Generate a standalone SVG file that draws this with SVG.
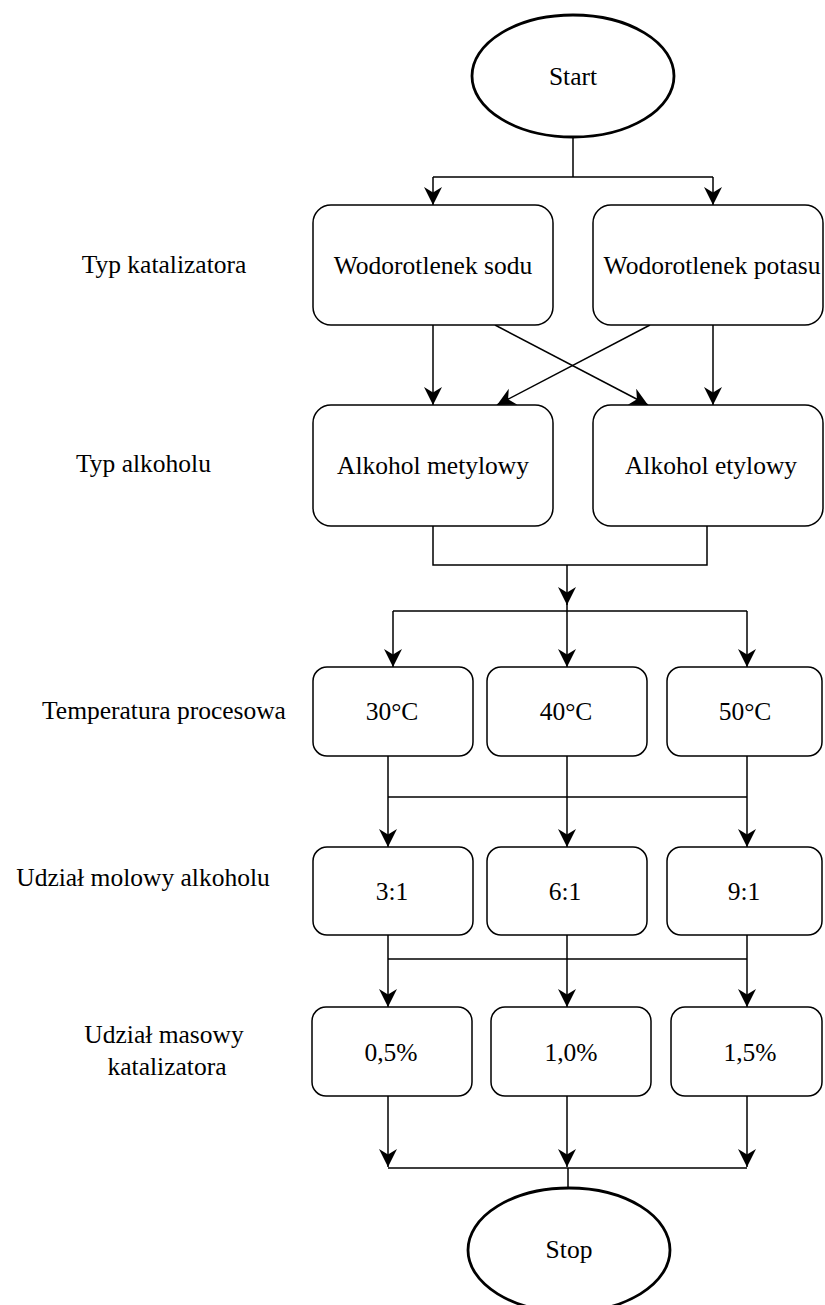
<svg xmlns="http://www.w3.org/2000/svg" width="825" height="1305" viewBox="0 0 825 1305">
<style>
.box{fill:#fff;stroke:#000;stroke-width:1.5}
.term{fill:#fff;stroke:#000;stroke-width:2.8}
.c{fill:none;stroke:#000;stroke-width:1.5}
.a{fill:none;stroke:#000;stroke-width:1.5;marker-end:url(#arr)}
.t{font-family:"Liberation Serif","Times New Roman",serif;font-size:25.5px;text-anchor:middle;fill:#000}
</style>
<defs>
<marker id="arr" markerUnits="userSpaceOnUse" markerWidth="22" markerHeight="20" refX="18" refY="9" orient="auto" viewBox="0 0 22 20">
<path d="M0,0 L18,9 L0,18 L5.5,9 z" fill="#000"/>
</marker>
</defs>
<rect width="825" height="1305" fill="#fff"/>
<g id="labels">
<text class="t" x="164" y="273">Typ katalizatora</text>
<text class="t" x="143.5" y="472">Typ alkoholu</text>
<text class="t" x="164" y="719">Temperatura procesowa</text>
<text class="t" x="143" y="886">Udział molowy alkoholu</text>
<text class="t" x="164" y="1043">Udział masowy</text>
<text class="t" x="167" y="1075">katalizatora</text>
</g>
<g id="connectors">
<path class="c" d="M573,137 V177 M433,177 H713"/>
<path class="a" d="M433,177 V205"/>
<path class="a" d="M713,177 V205"/>
<path class="a" d="M433,325 V405"/>
<path class="a" d="M713,325 V405"/>
<path class="a" d="M495,325 L648,405"/>
<path class="a" d="M650,325 L497,405"/>
<path class="c" d="M433,526 V565 H707 V526"/>
<path class="a" d="M567,565 V605"/>
<path class="c" d="M567,603 V611 M393,611 H747"/>
<path class="a" d="M393,611 V667"/>
<path class="a" d="M567,611 V667"/>
<path class="a" d="M747,611 V667"/>
<path class="c" d="M388,797 H747"/>
<path class="a" d="M388,756 V847"/>
<path class="a" d="M567,756 V847"/>
<path class="a" d="M747,756 V847"/>
<path class="c" d="M388,959 H747"/>
<path class="a" d="M388,935 V1007"/>
<path class="a" d="M567,935 V1007"/>
<path class="a" d="M747,935 V1007"/>
<path class="c" d="M388,1168 H747 M568,1168 V1188"/>
<path class="a" d="M388,1096 V1167"/>
<path class="a" d="M567,1096 V1167"/>
<path class="a" d="M747,1096 V1167"/>
</g>
<g id="start"><ellipse class="term" cx="573" cy="76" rx="101" ry="61"/><text class="t" x="573" y="85">Start</text></g>
<g id="naoh"><rect class="box" x="313" y="205" width="240" height="120" rx="18"/><text class="t" x="433" y="274">Wodorotlenek sodu</text></g>
<g id="koh"><rect class="box" x="593" y="205" width="230" height="120" rx="18"/><text class="t" x="712" y="274">Wodorotlenek potasu</text></g>
<g id="metanol"><rect class="box" x="313" y="405" width="240" height="121" rx="18"/><text class="t" x="433" y="474">Alkohol metylowy</text></g>
<g id="etanol"><rect class="box" x="593" y="405" width="230" height="121" rx="18"/><text class="t" x="711" y="474">Alkohol etylowy</text></g>
<g id="t30"><rect class="box" x="313" y="667" width="160" height="89" rx="14"/><text class="t" x="392" y="720">30°C</text></g>
<g id="t40"><rect class="box" x="487" y="667" width="160" height="89" rx="14"/><text class="t" x="566" y="720">40°C</text></g>
<g id="t50"><rect class="box" x="667" y="667" width="155" height="89" rx="14"/><text class="t" x="745" y="720">50°C</text></g>
<g id="m3"><rect class="box" x="313" y="847" width="160" height="88" rx="14"/><text class="t" x="392" y="900">3:1</text></g>
<g id="m6"><rect class="box" x="487" y="847" width="160" height="88" rx="14"/><text class="t" x="565" y="900">6:1</text></g>
<g id="m9"><rect class="box" x="667" y="847" width="155" height="88" rx="14"/><text class="t" x="744" y="900">9:1</text></g>
<g id="k05"><rect class="box" x="312" y="1007" width="160" height="89" rx="14"/><text class="t" x="391" y="1061">0,5%</text></g>
<g id="k10"><rect class="box" x="491" y="1007" width="160" height="89" rx="14"/><text class="t" x="571" y="1061">1,0%</text></g>
<g id="k15"><rect class="box" x="671" y="1007" width="151" height="89" rx="14"/><text class="t" x="750" y="1061">1,5%</text></g>
<g id="stop"><ellipse class="term" cx="569" cy="1250" rx="101" ry="62"/><text class="t" x="569" y="1258">Stop</text></g>
</svg>
